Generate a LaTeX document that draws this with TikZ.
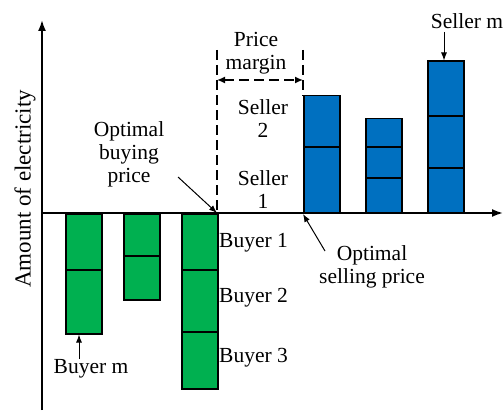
\documentclass[tikz,border=0pt]{standalone}
\usepackage{fontspec}
\setmainfont{Liberation Serif}
\usetikzlibrary{arrows.meta}
\definecolor{bgreen}{RGB}{0,176,80}
\definecolor{sblue}{RGB}{0,112,192}
\begin{document}
\begin{tikzpicture}[x=1pt,y=-1pt,
  axis/.style={line width=1.8pt,-{Latex[length=11pt,width=8pt]}},
  gbar/.style={draw=black,fill=bgreen,line width=1.5pt},
  bbar/.style={draw=black,fill=sblue,line width=1.5pt},
  sep/.style={line width=1.2pt},
  lbl/.style={font=\fontsize{21.5}{23}\selectfont,inner sep=0pt,align=center},
  ptr/.style={line width=1pt,-{Latex[length=8pt,width=6pt]}},
  dsh/.style={line width=1.5pt,dash pattern=on 10pt off 5pt}]
\useasboundingbox (0,0) rectangle (503,412);
% buyers
\node[gbar,minimum width=36pt,minimum height=120pt,inner sep=0pt,anchor=north west] (b1) at (65,213) {};
\draw[sep] (65,270) -- (101,270);
\node[gbar,minimum width=36pt,minimum height=86pt,inner sep=0pt,anchor=north west] (b2) at (123,213) {};
\draw[sep] (123,256) -- (159,256);
\node[gbar,minimum width=36pt,minimum height=175pt,inner sep=0pt,anchor=north west] (b3) at (181,213) {};
\draw[sep] (181,270) -- (217,270);
\draw[sep] (181,332) -- (217,332);
% sellers
\node[bbar,minimum width=36pt,minimum height=117pt,inner sep=0pt,anchor=south west] (s1) at (303,213) {};
\draw[sep] (303,147) -- (339,147);
\node[bbar,minimum width=36pt,minimum height=94pt,inner sep=0pt,anchor=south west] (s2) at (365,213) {};
\draw[sep] (365,147) -- (401,147);
\draw[sep] (365,178) -- (401,178);
\node[bbar,minimum width=36pt,minimum height=151pt,inner sep=0pt,anchor=south west] (s3) at (427,213) {};
\draw[sep] (427,116) -- (463,116);
\draw[sep] (427,168) -- (463,168);
% axes
\coordinate (o) at (42,213);
\coordinate (yb) at (42,410);
\coordinate (yt) at (42,20);
\coordinate (xl) at (42,213);
\coordinate (xr) at (503,213);
\draw[axis] (yb) -- (yt);
\draw[axis] (xl) -- (xr);
% dashed
\coordinate (d1t) at (217,50);
\coordinate (d1b) at (217,213);
\coordinate (d2t) at (303,50);
\coordinate (d2b) at (303,96);
\draw[dsh] (d1t) -- (d1b);
\draw[dsh] (d2t) -- (d2b);
\coordinate (ma) at (217,80);
\coordinate (mb) at (303,80);
\draw[dsh,{Latex[length=8pt,width=7pt]}-{Latex[length=8pt,width=7pt]}] (ma) -- (mb);
% labels
\node[lbl] (pm) at (256,53) {Price\\margin};
\node[lbl] (sl2) at (263,119) {Seller\\2};
\node[lbl] (sl1) at (263,190) {Seller\\1};
\node[lbl] (obp) at (129,154) {Optimal\\buying\\price};
\node[lbl] (osp) at (372,267) {Optimal\\selling price};
\node[lbl,anchor=west] (by1) at (219,243) {Buyer 1};
\node[lbl,anchor=west] (by2) at (219,298) {Buyer 2};
\node[lbl,anchor=west] (by3) at (219,358) {Buyer 3};
\node[lbl] (bym) at (91,369) {Buyer m};
\node[lbl] (slm) at (467,21) {Seller m};
\node[lbl,rotate=90,font=\fontsize{23}{25}\selectfont] (yl) at (25,189) {Amount of electricity};
% pointers
\coordinate (obpt) at (178,177);
\draw[ptr] (obpt) -- (d1b);
\coordinate (ospt) at (325,251);
\draw[ptr] (ospt) -- (303,214);
\coordinate (bymt) at (79,359);
\draw[ptr] (bymt) -- (b1.south west -| bymt);
\coordinate (slmt) at (444,32);
\draw[ptr] (slmt) -- (s3.north west -| slmt);
\end{tikzpicture}
\end{document}
